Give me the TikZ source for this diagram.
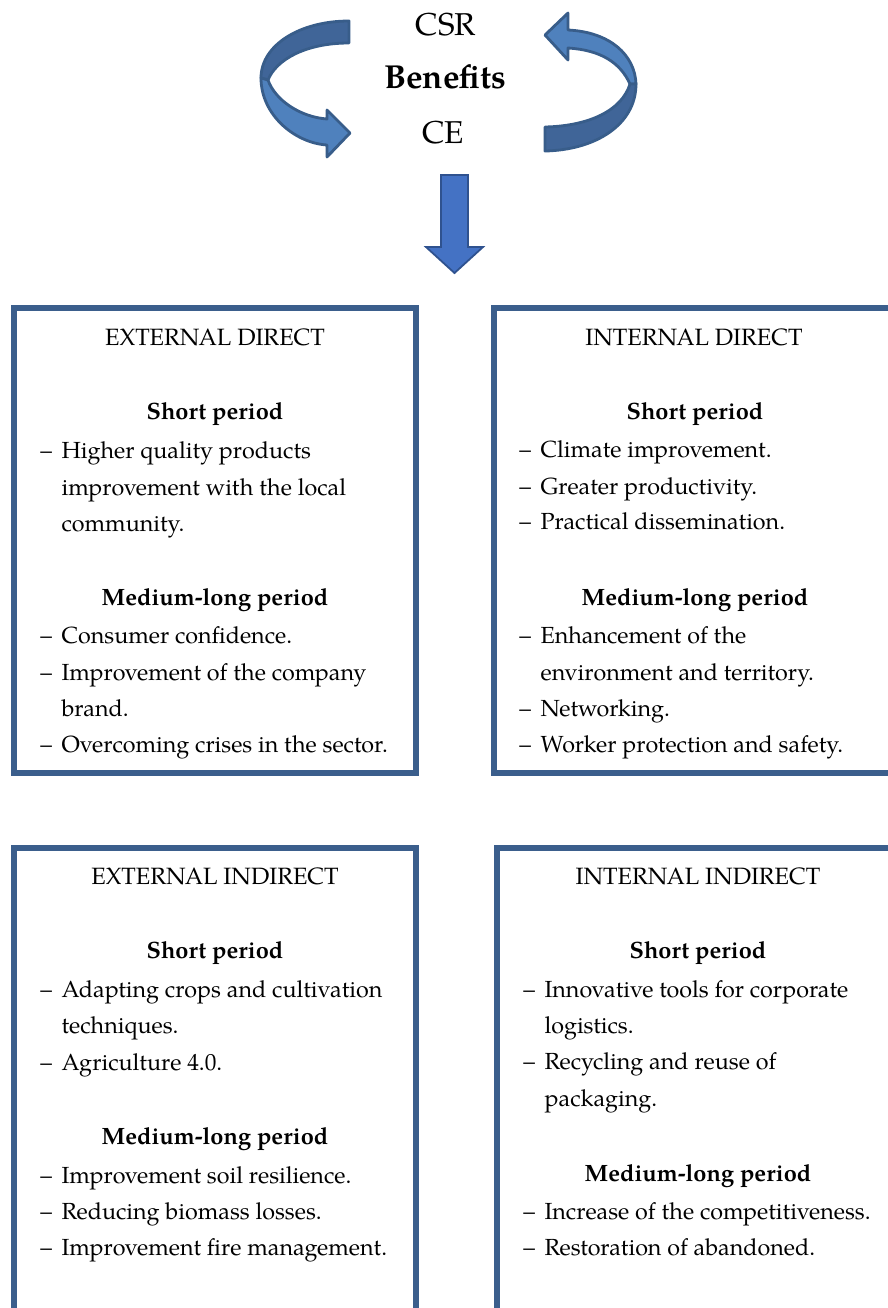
\documentclass[tikz,border=0pt]{standalone}
\usepackage{fontspec}
\setmainfont{texgyrepagella}[Extension=.otf,UprightFont=*-regular,BoldFont=*-bold,ItalicFont=*-italic,BoldItalicFont=*-bolditalic]
\definecolor{boxblue}{RGB}{59,94,140}
\definecolor{arrline}{RGB}{56,93,138}
\definecolor{arrlight}{RGB}{79,129,189}
\definecolor{arrdark}{RGB}{64,101,152}
\definecolor{downfill}{RGB}{68,114,196}
\definecolor{downline}{RGB}{47,82,143}
\newcommand{\dsh}{\makebox[10.6pt][l]{–}}
\newcommand{\ind}{\hspace*{10.6pt}}
\begin{document}
\begin{tikzpicture}[x=0.5pt,y=-0.5pt,
  frame/.style={draw=boxblue,line width=2.6pt},
  itm/.style={font=\fontsize{11.65}{14}\selectfont,inner sep=0pt,anchor=base west},
  ttl/.style={font=\fontsize{11.8}{14}\selectfont,inner sep=0pt,anchor=base},
  sub/.style={font=\fontsize{11.8}{14}\selectfont\bfseries,inner sep=0pt,anchor=base},
  big/.style={font=\fontsize{15.8}{18}\selectfont,inner sep=0pt,anchor=base},
  ribbon/.style={draw=arrline,line width=1.4pt,line join=round}]
\useasboundingbox (0,0) rectangle (888,1308);
\clip (0,0) rectangle (888,1308);
\fill[white] (0,0) rectangle (888,1308);

% top texts
\node[big] (csr) at (446,35) {CSR};
\node[big,font=\fontsize{16.6}{18}\selectfont\bfseries] (ben) at (445,88) {Benefits};
\node[big] (ce) at (443,143) {CE};

% left curved arrow
\fill[arrdark,ribbon] (349,21) .. controls (300,21) and (261,45) .. (261,78)
  -- (268,80) .. controls (276,60) and (305,43) .. (349,43) -- cycle;
\fill[arrlight,ribbon] (261,78) .. controls (261,115) and (295,143) .. (327,145)
  -- (327,157) -- (350,133) -- (327,110) -- (327,119)
  .. controls (300,117) and (275,100) .. (268,80) -- cycle;

% right curved arrow
\fill[arrlight,ribbon] (545,35) -- (568,13) -- (568,30) .. controls (610,32) and (635,55) .. (636,84)
  -- (630,84) .. controls (620,62) and (600,50) .. (568,48) -- (568,60) -- cycle;
\fill[arrdark,ribbon] (636,84) .. controls (636,125) and (595,150) .. (545,151)
  -- (545,127) .. controls (590,126) and (622,110) .. (630,84) -- cycle;

% down arrow
\fill[downfill,draw=downline,line width=0.9pt,line join=miter]
  (441,175) -- (468,175) -- (468,247) -- (483,247) -- (454.5,273) -- (426,247) -- (441,247) -- cycle;

% boxes
\draw[frame] (14,308) rectangle (416,773);
\draw[frame] (494,308) rectangle (960,773);
\draw[frame] (14,848) rectangle (416,1400);
\draw[frame] (497,848) rectangle (960,1400);

% box 1
\node[ttl] (t1) at (215,345) {EXTERNAL DIRECT};
\node[sub] (s1) at (215,419) {Short period};
\node[itm] (a1) at (40,458) {\dsh Higher quality products};
\node[itm] (a2) at (40,495) {\ind improvement with the local};
\node[itm] (a3) at (40,531) {\ind community.};
\node[sub] (m1) at (215,605) {Medium-long period};
\node[itm] (a4) at (40,643) {\dsh Consumer confidence.};
\node[itm] (a5) at (40,680) {\dsh Improvement of the company};
\node[itm] (a6) at (40,716) {\ind brand.};
\node[itm] (a7) at (40,752) {\dsh Overcoming crises in the sector.};

% box 2
\node[ttl] (t2) at (694,345) {INTERNAL DIRECT};
\node[sub] (s2) at (695,419) {Short period};
\node[itm] (b1) at (519,457) {\dsh Climate improvement.};
\node[itm] (b2) at (519,494) {\dsh Greater productivity.};
\node[itm] (b3) at (519,529) {\dsh Practical dissemination.};
\node[sub] (m2) at (695,605) {Medium-long period};
\node[itm] (b4) at (519,643) {\dsh Enhancement of the};
\node[itm] (b5) at (519,680) {\ind environment and territory.};
\node[itm] (b6) at (519,716) {\dsh Networking.};
\node[itm] (b7) at (519,752) {\dsh Worker protection and safety.};

% box 3
\node[ttl] (t3) at (215,884) {EXTERNAL INDIRECT};
\node[sub] (s3) at (215,958) {Short period};
\node[itm] (c1) at (40,997) {\dsh Adapting crops and cultivation};
\node[itm] (c2) at (40,1033) {\ind techniques.};
\node[itm] (c3) at (40,1070) {\dsh Agriculture 4.0.};
\node[sub] (m3) at (215,1144) {Medium-long period};
\node[itm] (c4) at (40,1183) {\dsh Improvement soil resilience.};
\node[itm] (c5) at (40,1219) {\dsh Reducing biomass losses.};
\node[itm] (c6) at (40,1255) {\dsh Improvement fire management.};

% box 4
\node[ttl] (t4) at (698,884) {INTERNAL INDIRECT};
\node[sub] (s4) at (698,958) {Short period};
\node[itm] (d1) at (523,997) {\dsh Innovative tools for corporate};
\node[itm] (d2) at (523,1033) {\ind logistics.};
\node[itm] (d3) at (523,1069) {\dsh Recycling and reuse of};
\node[itm] (d4) at (523,1106) {\ind packaging.};
\node[sub] (m4) at (698,1181) {Medium-long period};
\node[itm] (d5) at (523,1219) {\dsh Increase of the competitiveness.};
\node[itm] (d6) at (523,1255) {\dsh Restoration of abandoned.};
\end{tikzpicture}
\end{document}
